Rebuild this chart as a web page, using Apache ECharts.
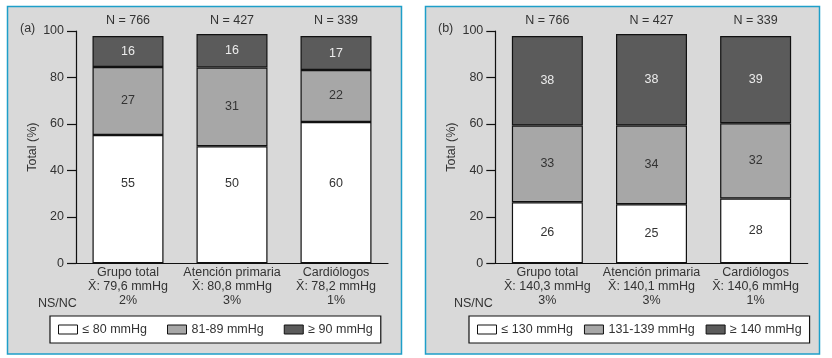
<!DOCTYPE html>
<html>
<head>
<meta charset="utf-8">
<script src="https://cdn.jsdelivr.net/npm/echarts@6/dist/echarts.min.js"></script>
<style>
  html, body { margin: 0; padding: 0; background: #fff; }
  #chart { width: 832px; height: 358px; }
</style>
</head>
<body>
<div id="chart"></div>
<script>
// categories and headers
const categories = ['Grupo total', 'Atención primaria', 'Cardiólogos'];
const nLabels = ['N = 766', 'N = 427', 'N = 339'];
const yTicks = [0, 20, 40, 60, 80, 100];

// panel (a): diastolic
const meanA = ['79,6', '80,8', '78,2'];
const nsncA = ['2%', '3%', '1%'];
const namesA = ['≤ 80 mmHg', '81-89 mmHg', '≥ 90 mmHg'];
const lowA = [55.2, 50.4, 60.8];   // drawn heights
const midA = [29.3, 33.9, 22.4];
const highA = [13.3, 14.4, 14.6];
const lowATxt = [55, 50, 60];      // printed values
const midATxt = [27, 31, 22];
const highATxt = [16, 16, 17];

// panel (b): systolic
const meanB = ['140,3', '140,1', '140,6'];
const nsncB = ['3%', '3%', '1%'];
const namesB = ['≤ 130 mmHg', '131-139 mmHg', '≥ 140 mmHg'];
const lowB = [26.3, 25.4, 27.9];
const midB = [33.0, 33.9, 32.4];
const highB = [38.5, 39.4, 37.5];
const lowBTxt = [26, 25, 28];
const midBTxt = [33, 34, 32];
const highBTxt = [38, 38, 39];

const FONT = 'Liberation Sans';
const TXT = '#333';
const fills = ['#ffffff', '#a7a7a7', '#5b5b5b'];

const myChart = echarts.init(document.getElementById('chart'));

function bottomAxis(gridIndex, means, nsnc) {
  return {
    type: 'category', gridIndex: gridIndex, position: 'bottom',
    data: categories,
    axisLine: { lineStyle: { color: '#111', width: 1.2 } },
    axisTick: { show: false },
    axisLabel: {
      interval: 0, margin: 2, color: TXT, fontFamily: FONT, fontSize: 12.5,
      lineHeight: 14, align: 'center',
      formatter: (v, i) => `${v}\nX\u0304: ${means[i]} mmHg\n${nsnc[i]}`
    }
  };
}
function topAxis(gridIndex) {
  return {
    type: 'category', gridIndex: gridIndex, position: 'top',
    data: nLabels,
    axisLine: { show: false }, axisTick: { show: false },
    axisLabel: { interval: 0, margin: 3, color: TXT, fontFamily: FONT, fontSize: 12.5, lineHeight: 14 }
  };
}
function valueAxis(gridIndex) {
  return {
    type: 'value', gridIndex: gridIndex, min: yTicks[0], max: yTicks[yTicks.length - 1], interval: 20,
    name: 'Total (%)', nameLocation: 'middle', nameRotate: 90, nameGap: 34,
    nameTextStyle: { color: TXT, fontFamily: FONT, fontSize: 12.5 },
    axisLine: { show: true, lineStyle: { color: '#111', width: 1.2 } },
    axisTick: { show: true, length: 9, lineStyle: { color: '#111', width: 1.2 } },
    axisLabel: { margin: 12, color: TXT, fontFamily: FONT, fontSize: 12.5 },
    splitLine: { show: false }
  };
}
function barSeries(name, values, texts, stack, xIdx, yIdx, k, labelExtra) {
  return {
    type: 'bar', name: name, stack: stack, xAxisIndex: xIdx, yAxisIndex: yIdx,
    data: values, barWidth: 71,
    itemStyle: { color: fills[k], borderColor: '#111', borderWidth: 1.2 },
    label: Object.assign({
      show: true, position: 'inside', fontFamily: FONT, fontSize: 12.5,
      color: k === 2 ? '#ececec' : TXT,
      formatter: p => String(texts[p.dataIndex])
    }, labelExtra || {})
  };
}
function legendFor(names, left, gap) {
  return {
    data: names, left: left, top: 316, orient: 'horizontal',
    icon: 'rect', itemWidth: 19, itemHeight: 9, itemGap: gap,
    padding: [7, 8, 7, 8],
    backgroundColor: '#fff', borderColor: '#111', borderWidth: 1.2,
    itemStyle: { borderColor: '#111', borderWidth: 1 },
    textStyle: { color: TXT, fontFamily: FONT, fontSize: 12.5 },
    selectedMode: false
  };
}
function panelRect(x) {
  return {
    type: 'rect', z: -10, silent: true,
    shape: { x: x, y: 6.5, width: 394, height: 347.5 },
    style: { fill: '#d9d9d9', stroke: '#1e9fc9', lineWidth: 1.5 }
  };
}
function plainText(text, x, y, size) {
  return {
    type: 'text', x: x, y: y, silent: true,
    style: { text: text, fill: TXT, font: `${size || 12.5}px "${FONT}"`, textVerticalAlign: 'middle' }
  };
}

myChart.setOption({
  animation: false,
  backgroundColor: '#fff',
  graphic: [
    panelRect(7.5), panelRect(425.5),
    plainText('(a)', 20, 29), plainText('(b)', 438, 29),
    plainText('NS/NC', 38, 303.5), plainText('NS/NC', 454, 303.5)
  ],
  grid: [
    { left: 76, top: 31, width: 312, height: 232.3 },
    { left: 495.3, top: 31, width: 312.4, height: 232.3 }
  ],
  xAxis: [bottomAxis(0, meanA, nsncA), topAxis(0), bottomAxis(1, meanB, nsncB), topAxis(1)],
  yAxis: [valueAxis(0), valueAxis(1)],
  legend: [legendFor(namesA, 50, 20), legendFor(namesB, 469, 11)],
  series: [
    barSeries(namesA[0], lowA, lowATxt, 'a', 0, 0, 0, { position: 'insideBottom', distance: 73 }),
    barSeries(namesA[1], midA, midATxt, 'a', 0, 0, 1),
    barSeries(namesA[2], highA, highATxt, 'a', 0, 0, 2),
    barSeries(namesB[0], lowB, lowBTxt, 'b', 2, 1, 0),
    barSeries(namesB[1], midB, midBTxt, 'b', 2, 1, 1),
    barSeries(namesB[2], highB, highBTxt, 'b', 2, 1, 2)
  ]
});
</script>
</body>
</html>
